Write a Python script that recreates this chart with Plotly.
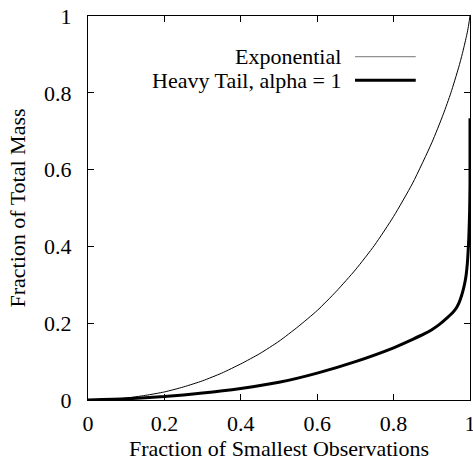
import plotly.graph_objects as go

# Values
exp_x = [0.0, 0.05, 0.10, 0.15, 0.20, 0.25, 0.30, 0.35, 0.40, 0.45, 0.50, 0.55,
         0.60, 0.65, 0.70, 0.75, 0.80, 0.85, 0.90, 0.93, 0.95, 0.97, 0.98, 0.99, 0.995, 1.0]
exp_y = [0.0, 0.001, 0.005, 0.012, 0.021, 0.034, 0.050, 0.070, 0.094, 0.121, 0.153, 0.191,
         0.233, 0.283, 0.339, 0.403, 0.478, 0.565, 0.670, 0.744, 0.800, 0.865, 0.902, 0.944, 0.968, 1.0]

heavy_x = [0.0, 0.10, 0.20, 0.30, 0.40, 0.50, 0.60, 0.70, 0.80, 0.85, 0.88, 0.90, 0.92,
           0.94, 0.955, 0.965, 0.972, 0.978, 0.983, 0.987, 0.990, 0.993, 0.995, 0.997,
           0.999, 1.0, 1.0]
heavy_y = [0.0, 0.003, 0.009, 0.018, 0.030, 0.046, 0.070, 0.100, 0.136, 0.158, 0.172, 0.183,
           0.197, 0.214, 0.228, 0.241, 0.255, 0.272, 0.290, 0.308, 0.326, 0.355, 0.385, 0.425,
           0.490, 0.560, 0.734]

tick_vals = [0, 0.2, 0.4, 0.6, 0.8, 1]
tick_text = ["0", "0.2", "0.4", "0.6", "0.8", "1"]

series_names = ["Exponential", "Heavy Tail, alpha = 1"]

FONT = "Liberation Serif, Times New Roman, serif"
FS = 22
TFS = 22

fig = go.Figure()
fig.add_trace(go.Scatter(x=exp_x, y=exp_y, mode="lines", name=series_names[0],
                         line=dict(color="black", width=1, shape="spline", smoothing=0.6),
                         showlegend=False, cliponaxis=False))
fig.add_trace(go.Scatter(x=heavy_x, y=heavy_y, mode="lines", name=series_names[1],
                         line=dict(color="black", width=3, shape="spline", smoothing=0.5),
                         showlegend=False, cliponaxis=False))

# Legend drawn gnuplot-style: text right-aligned, sample line to its right
legend_rows = [(0.894, 1), (0.833, 3)]
for (ypos, w), name in zip(legend_rows, series_names):
    fig.add_annotation(xref="paper", yref="paper", x=0.668, y=ypos, text=name,
                       showarrow=False, xanchor="right", yanchor="middle",
                       font=dict(family=FONT, size=FS, color="black"))
    fig.add_shape(type="line", xref="paper", yref="paper",
                  x0=0.699, x1=0.858, y0=ypos, y1=ypos,
                  line=dict(color="#777777" if w == 1 else "black", width=w))

axis_common = dict(
    tickvals=tick_vals, ticktext=tick_text, range=[0, 1],
    showgrid=False, zeroline=False, automargin=False,
    showline=True, linecolor="black", linewidth=1, mirror="allticks",
    ticks="inside", ticklen=6, tickcolor="black", tickwidth=1,
    ticklabeloverflow="allow",
    tickfont=dict(family=FONT, size=TFS, color="black"),
)

fig.update_layout(
    width=473, height=467,
    margin=dict(l=88, r=3, t=16, b=67, autoexpand=False),
    paper_bgcolor="white", plot_bgcolor="white",
    font=dict(family=FONT, size=FS, color="black"),
    xaxis=dict(**axis_common, ticklabelstandoff=4,
               title=dict(text="Fraction of Smallest Observations",
                          font=dict(family=FONT, size=FS), standoff=4)),
    yaxis=dict(**axis_common, ticklabelstandoff=11,
               title=dict(text="Fraction of Total Mass",
                          font=dict(family=FONT, size=FS), standoff=12)),
)

fig.write_html("out.html", config={"displayModeBar": False},
               post_script="document.body.style.margin='0px';document.body.style.overflow='hidden';")
